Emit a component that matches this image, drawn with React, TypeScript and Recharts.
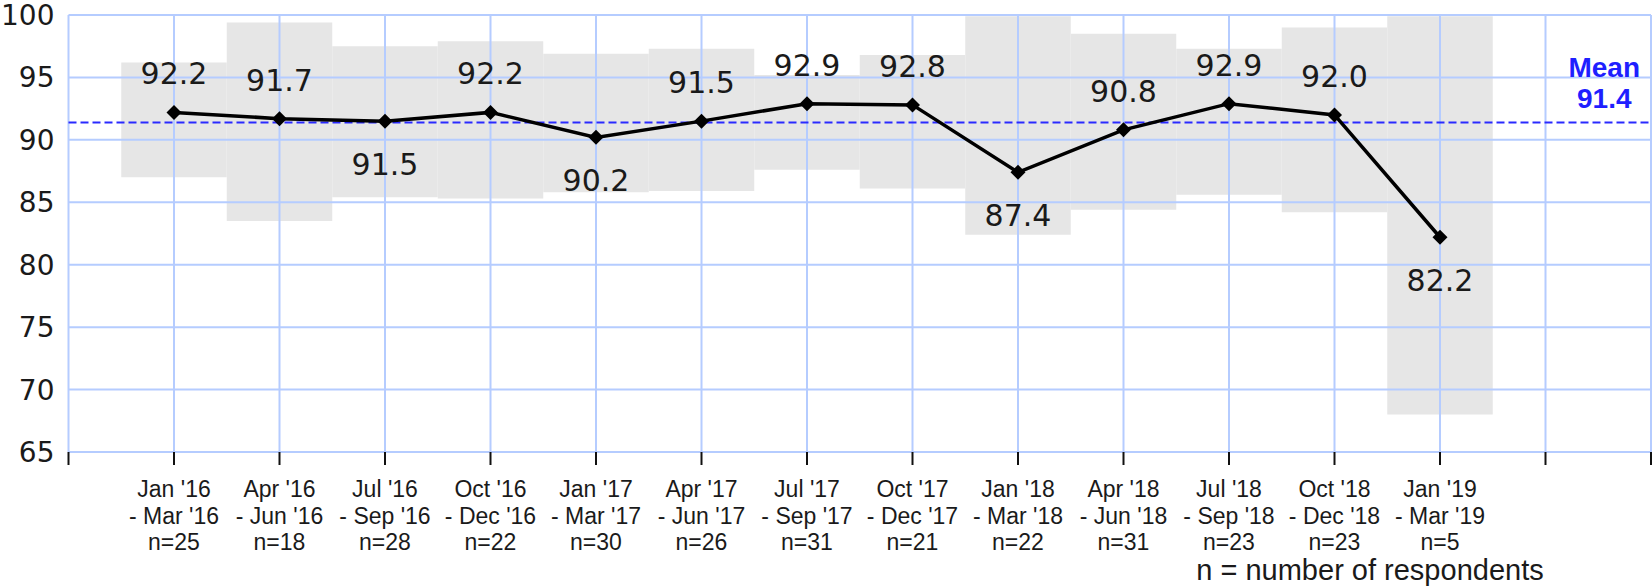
import {
  ComposedChart,
  Line,
  XAxis,
  YAxis,
  ReferenceArea,
  ReferenceLine,
  ReferenceDot,
} from "recharts";

// quarters
const periodStarts = ["Jan '16", "Apr '16", "Jul '16", "Oct '16", "Jan '17", "Apr '17", "Jul '17", "Oct '17", "Jan '18", "Apr '18", "Jul '18", "Oct '18", "Jan '19"];
const periodEnds = ["- Mar '16", "- Jun '16", "- Sep '16", "- Dec '16", "- Mar '17", "- Jun '17", "- Sep '17", "- Dec '17", "- Mar '18", "- Jun '18", "- Sep '18", "- Dec '18", "- Mar '19"];
const respondents = [25, 18, 28, 22, 30, 26, 31, 21, 22, 31, 23, 23, 5];
const scores = [92.2, 91.7, 91.5, 92.2, 90.2, 91.5, 92.9, 92.8, 87.4, 90.8, 92.9, 92.0, 82.2];

// grey confidence bands (low / high)
const bandLow = [87.0, 83.5, 85.4, 85.3, 85.8, 85.9, 87.6, 86.1, 82.4, 84.4, 85.6, 84.2, 68.0];
const bandHigh = [96.2, 99.4, 97.5, 97.9, 96.9, 97.3, 95.2, 96.8, 99.9, 98.5, 97.3, 99.0, 99.9];

const meanScore = 91.4;
const yTicks = [65, 70, 75, 80, 85, 90, 95, 100];
const xTicks = [0, 1, 2, 3, 4, 5, 6, 7, 8, 9, 10, 11, 12, 13, 14, 15];

const chartData = scores.map((score, i) => ({ slot: i + 1, score }));

const SANS = "'Liberation Sans', Arial, sans-serif";
const NUM = "'DejaVu Sans', Verdana, sans-serif";
const GRID = "#b5ccff";

const PeriodTick = ({ x, y, payload }: any) => {
  const i = payload.value - 1;
  if (i < 0 || i >= periodStarts.length) return <g />;
  return (
    <text x={x} textAnchor="middle" fontFamily={SANS} fontSize={23} fill="#1a1a1a">
      <tspan x={x} y={y + 32}>{periodStarts[i]}</tspan>
      <tspan x={x} y={y + 59}>{periodEnds[i]}</tspan>
      <tspan x={x} y={y + 85}>n={respondents[i]}</tspan>
    </text>
  );
};

const renderPoint = (props: any) => {
  const { cx, cy, index } = props;
  const v = scores[index];
  const prev = scores[index - 1];
  const next = scores[index + 1];
  // label goes under the point when it is a dip
  const below = prev !== undefined && v < prev && (next === undefined || v < next);
  return (
    <g key={`pt-${index}`}>
      <path d={`M${cx},${cy - 7.5}L${cx + 7.5},${cy}L${cx},${cy + 7.5}L${cx - 7.5},${cy}Z`} fill="#000" />
      <text
        x={cx}
        y={below ? cy + 54 : cy - 28}
        textAnchor="middle"
        fontFamily={NUM}
        fontSize={30}
        fill="#1a1a1a"
      >
        {v.toFixed(1)}
      </text>
    </g>
  );
};

const MeanLabel = ({ viewBox }: any) => {
  if (!viewBox) return null;
  const cx = viewBox.x + viewBox.width / 2 + 6;
  const cy = viewBox.y + viewBox.height / 2;
  return (
    <g fontFamily={SANS} fontWeight="bold" fontSize={28} fill="#1f1fff" textAnchor="middle">
      <text x={cx} y={cy - 45}>Mean</text>
      <text x={cx} y={cy - 14}>{meanScore.toFixed(1)}</text>
    </g>
  );
};

export default function App() {
  return (
    <div
      style={{
        position: "absolute",
        left: 0,
        top: 0,
        width: 1652,
        height: 586,
        overflow: "hidden",
        background: "#fff",
      }}
    >
      <ComposedChart
        width={1652}
        height={586}
        data={chartData}
        margin={{ top: 15, right: 1, bottom: 0, left: 0 }}
      >
        {bandLow.map((low, i) => (
          <ReferenceArea
            key={`band-${i}`}
            x1={i + 0.5}
            x2={i + 1.5}
            y1={low}
            y2={bandHigh[i]}
            fill="#e6e6e6"
            fillOpacity={1}
            stroke="none"
          />
        ))}
        {/* grid drawn as reference lines so it sits on top of the grey bands */}
        {yTicks.map((t) => (
          <ReferenceLine key={`gy-${t}`} y={t} stroke={GRID} strokeWidth={2} />
        ))}
        {xTicks.map((t) => (
          <ReferenceLine key={`gx-${t}`} x={t} stroke={GRID} strokeWidth={2} />
        ))}
        <XAxis
          type="number"
          dataKey="slot"
          domain={[0, 15]}
          ticks={xTicks}
          interval={0}
          axisLine={false}
          tickLine={{ stroke: "#111", strokeWidth: 2 }}
          tickSize={13}
          tickMargin={0}
          height={134}
          tick={<PeriodTick />}
        />
        <YAxis
          type="number"
          domain={[65, 100]}
          ticks={yTicks}
          interval={0}
          width={68.5}
          axisLine={false}
          tickLine={false}
          tickMargin={8}
          tick={{ fontFamily: NUM, fontSize: 28, fill: "#1a1a1a" }}
        />
        <ReferenceLine y={meanScore} stroke="#2a2aff" strokeWidth={2} strokeDasharray="8 4" />
        <ReferenceDot x={14.5} y={meanScore} r={0} stroke="none" fill="none" label={<MeanLabel />} />
        <Line
          type="linear"
          dataKey="score"
          stroke="#000"
          strokeWidth={3.5}
          dot={renderPoint}
          activeDot={false}
          isAnimationActive={false}
        />
      </ComposedChart>
      <div
        style={{
          position: "absolute",
          left: 1170,
          width: 400,
          top: 556,
          textAlign: "center",
          fontFamily: SANS,
          fontSize: 29,
          lineHeight: "29px",
          color: "#1a1a1a",
          whiteSpace: "nowrap",
        }}
      >
        n = number of respondents
      </div>
    </div>
  );
}
